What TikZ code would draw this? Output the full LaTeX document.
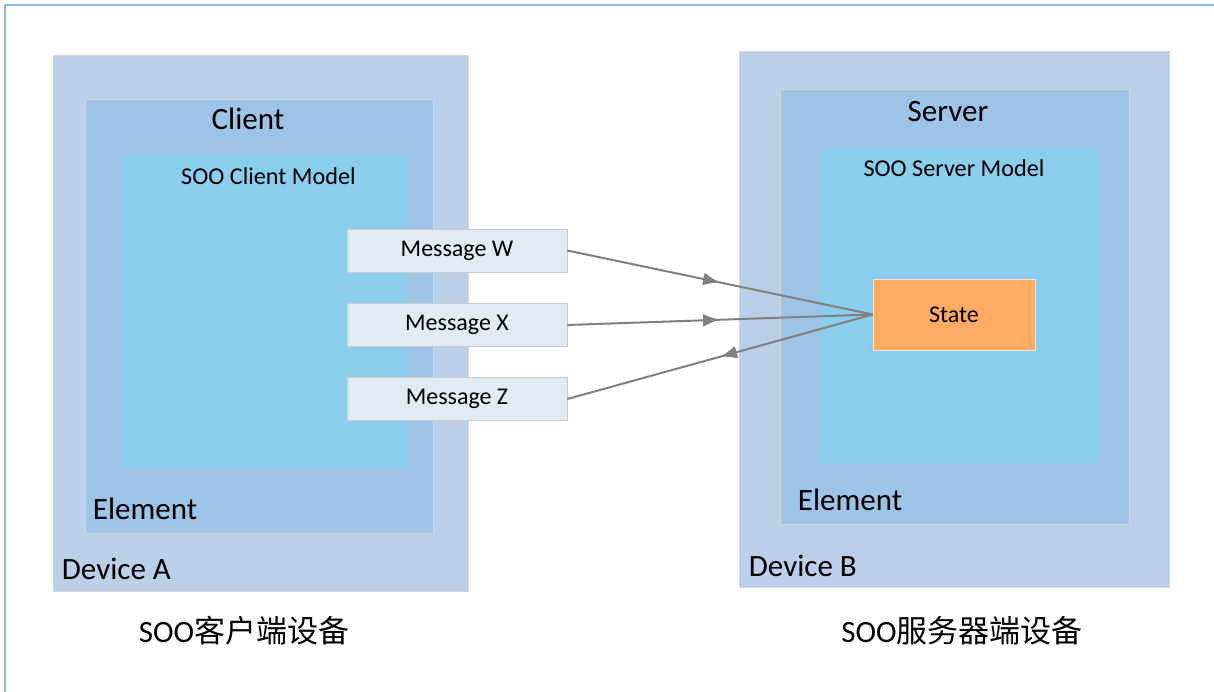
\documentclass[tikz,border=0pt]{standalone}
\usepackage{fontspec}
\setmainfont{Carlito}
\newfontfamily\cjk{Noto Sans CJK SC}
\usetikzlibrary{arrows.meta,calc,decorations.markings,positioning}

\definecolor{framecol}{HTML}{8DB9E2}
\definecolor{devcol}{HTML}{BBCFE8}
\definecolor{elemcol}{HTML}{9DC3E6}
\definecolor{modelcol}{HTML}{8ACDED}
\definecolor{msgcol}{HTML}{E2EAF4}
\definecolor{statecol}{HTML}{FFAB63}
\definecolor{flowcol}{HTML}{808080}

\begin{document}
\begin{tikzpicture}
  [
    x=1pt, y=-1pt,
    box/.style =
      {draw=black!16, line width=0.6pt, rectangle, inner sep=0pt},
    msg/.style =
      {box, draw=black!20, fill=msgcol, minimum width=220pt, minimum height=43pt,
       font=\fontsize{24}{29}\selectfont},
    big/.style =
      {inner sep=0pt, font=\fontsize{31}{37}\selectfont},
    small/.style =
      {inner sep=0pt, font=\fontsize{24.2}{29}\selectfont},
    flow/.style =
      {draw=flowcol, line width=2pt, postaction={decorate},
       decoration={markings, mark=at position 0.5 with
         {\arrow{Latex[length=17pt,width=13pt]}}}}
  ]

\clip (0,0) rectangle (1214,692);
\fill[white] (0,0) rectangle (1214,692);
\draw[framecol, line width=2pt] (5,5) rectangle (1230,710);

% client side
\node[box, fill=devcol, minimum width=415pt, minimum height=536pt] (da) at (260.5,323) {};
\node[box, fill=elemcol, minimum width=348pt, minimum height=434pt] (ca) at (259,316) {};
\node[rectangle, inner sep=0pt, fill=modelcol, minimum width=287pt, minimum height=314pt] (cm) at (264.5,311) {};

\node[big, anchor=base] (clt) at ($(ca.north)+(-11,31)$) {Client};
\node[small, anchor=base] (cmt) at ($(cm.north)+(4,31)$) {SOO Client Model};
\node[big, anchor=base west] (cae) at ($(ca.south west)+(8,-14)$) {Element};
\node[big, anchor=base west] (dat) at ($(da.south west)+(9,-12)$) {Device A};
\node[big, anchor=base] (dac) at ($(da.south)+(-16.5,51)$) {SOO{\cjk 客户端设备}};

% server side
\node[box, fill=devcol, minimum width=430pt, minimum height=536pt] (db) at (954,319) {};
\node[box, fill=elemcol, minimum width=349pt, minimum height=435pt] (sa) at (954.5,306.5) {};
\node[rectangle, inner sep=0pt, fill=modelcol, minimum width=278pt, minimum height=315pt] (sm) at (961,305.5) {};

\node[big, anchor=base] (svt) at ($(sa.north)+(-6.5,33)$) {Server};
\node[small, anchor=base] (smt) at ($(sm.north)+(-7,29)$) {SOO Server Model};
\node[big, anchor=base west] (sae) at ($(sa.south west)+(18,-14)$) {Element};
\node[big, anchor=base west] (dbt) at ($(db.south west)+(10,-11)$) {Device B};
\node[big, anchor=base] (dbc) at ($(db.south)+(8,55)$) {SOO{\cjk 服务器端设备}};

\node[rectangle, inner sep=0pt, draw=statecol!80!black!20, fill=statecol,
      minimum width=162pt, minimum height=71pt, font=\fontsize{24}{29}\selectfont] (st) at (954,314.5) {State};

% messages
\node[msg] (mw) at (457,250.5) {Message W};
\node[msg] (mx) at (457,325) {Message X};
\node[msg] (mz) at (457,399) {Message Z};

\draw[flow] (mw.east) -- (st.west);
\draw[flow] (mx.east) -- (st.west);
\draw[flow] (st.west) -- (mz.east);

\end{tikzpicture}
\end{document}
